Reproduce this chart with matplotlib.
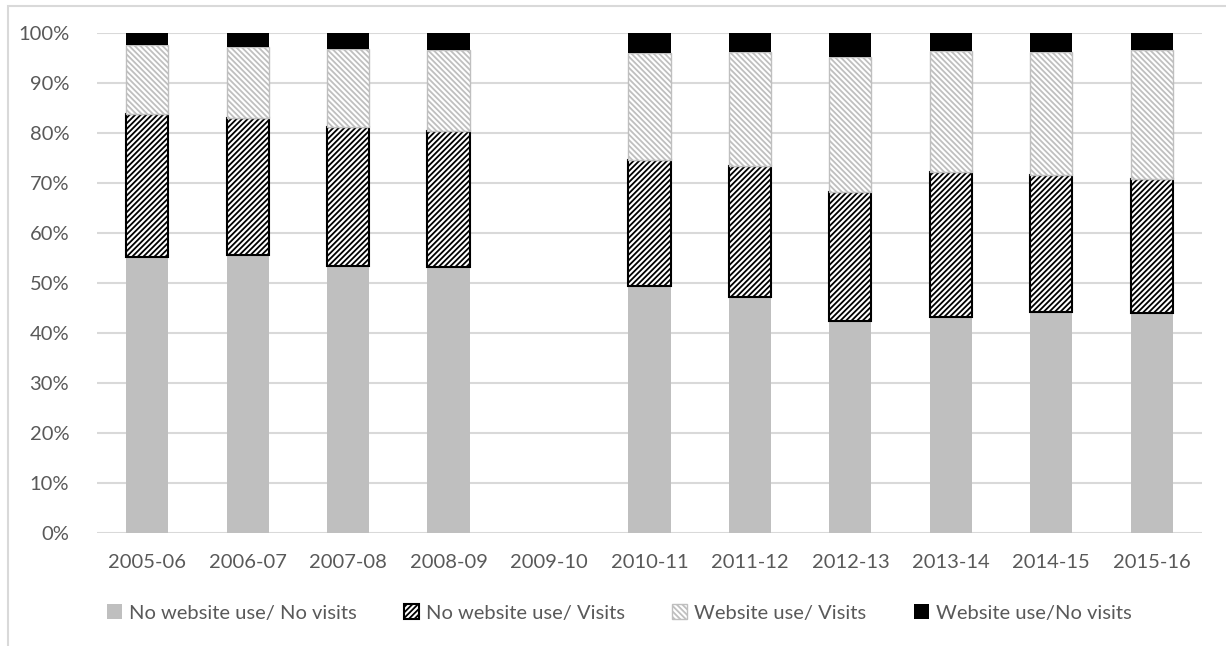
import numpy as np
import matplotlib.pyplot as plt
from matplotlib.patches import Rectangle

# data (cumulative tops in %)
years = ["2005-06", "2006-07", "2007-08", "2008-09", "2009-10", "2010-11",
         "2011-12", "2012-13", "2013-14", "2014-15", "2015-16"]
no_use_no_visits = [55.3, 55.7, 53.5, 53.3, np.nan, 49.5, 47.3, 42.5, 43.3, 44.3, 44.1]
top_no_use_visits = [83.9, 83.1, 81.3, 80.5, np.nan, 74.7, 73.5, 68.3, 72.2, 71.7, 70.9]
top_use_visits = [97.7, 97.2, 96.9, 96.7, np.nan, 96.0, 96.2, 95.3, 96.5, 96.2, 96.7]

labels = ["No website use/ No visits", "No website use/ Visits",
          "Website use/ Visits", "Website use/No visits"]

a = np.array(no_use_no_visits)
b = np.array(top_no_use_visits) - a
c = np.array(top_use_visits) - np.array(top_no_use_visits)
d = 100 - np.array(top_use_visits)

plt.rcParams['font.family'] = ['Lato', 'DejaVu Sans']
plt.rcParams['hatch.linewidth'] = 1.3

fig = plt.figure(figsize=(12.26, 6.46), dpi=100)
ax = fig.add_axes([0.0791, 0.1745, 0.9013, 0.774])

x = np.arange(len(years))
w = 0.42
ax.bar(x, a, w, color="#bfbfbf", label=labels[0], zorder=3)
ax.bar(x, b, w, bottom=a, facecolor="white", edgecolor="black", hatch="/" * 6,
       linewidth=1.5, label=labels[1], zorder=3)
ax.bar(x, c, w, bottom=a + b, facecolor="white", edgecolor="#bfbfbf", hatch="\\" * 6,
       linewidth=1.0, label=labels[2], zorder=3)
ax.bar(x, d, w, bottom=a + b + c, color="black", label=labels[3], zorder=3)

ax.set_xlim(-0.5, len(years) - 0.5)
ax.set_ylim(0, 100)
ax.set_yticks(np.arange(0, 101, 10))
ax.set_yticklabels([f"{v}%" for v in range(0, 101, 10)])
ax.set_xticks(x)
ax.set_xticklabels(years)
ax.tick_params(colors="#595959", labelsize=14.5, length=0)
ax.tick_params(axis="y", pad=20)
ax.tick_params(axis="x", pad=15)
ax.grid(axis="y", color="#d9d9d9", linewidth=1.5, zorder=0)
for s in ax.spines.values():
    s.set_visible(False)

leg = fig.legend(loc="center", bbox_to_anchor=(0.505, 0.051), ncol=4, frameon=False,
                 fontsize=14.5, handlelength=0.75, handleheight=0.75,
                 handletextpad=0.35, columnspacing=2.35)
for t in leg.get_texts():
    t.set_color("#595959")

# outer chart frame (left and top only visible)
fig.patches.append(Rectangle((8 / 1226, -0.1), 1.2, 0.1 + 640 / 646, transform=fig.transFigure,
                             fill=False, edgecolor="#d9d9d9", linewidth=1.5))

fig.savefig("out.png", dpi=100)
